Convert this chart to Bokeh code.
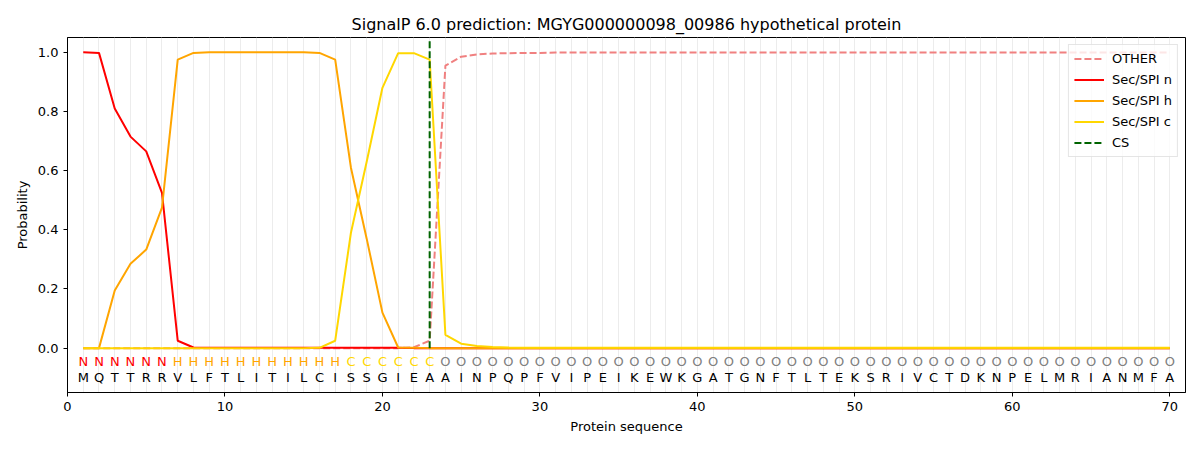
from bokeh.plotting import figure
from bokeh.models import ColumnDataSource, Legend, LegendItem, FixedTicker, Range1d, PrintfTickFormatter
from bokeh.core.properties import value
from bokeh.embed import file_html
from bokeh.resources import INLINE

title = "SignalP 6.0 prediction: MGYG000000098_00986 hypothetical protein"
sequence = list("MQTTRRVLFTLITILCISSGIEAAINPQPFVIPEIKEWKGATGNFTLTEKSRIVCTDKNPELMRIANMFA")
region_labels = list("NNNNNNHHHHHHHHHHHCCCCCC" + "OOOOOOOOOOOOOOOOOOOOOOOOOOOOOOOOOOOOOOOOOOOOOOO")
positions = list(range(1, 71))

other = [0.0, 0.0, 0.0, 0.0, 0.0, 0.0, 0.0, 0.0, 0.0, 0.0,
         0.0, 0.0, 0.0, 0.0, 0.0, 0.0, 0.0, 0.0, 0.0, 0.0,
         0.0, 0.003, 0.025, 0.955, 0.985, 0.993, 0.996, 0.997, 0.998, 0.998,
         0.999, 0.999, 0.999, 0.999, 0.999, 0.999, 0.999, 0.999, 0.999, 0.999,
         0.999, 0.999, 0.999, 0.999, 0.999, 0.999, 0.999, 0.999, 0.999, 0.999,
         0.999, 0.999, 0.999, 0.999, 0.999, 0.999, 0.999, 0.999, 0.999, 0.999,
         0.999, 0.999, 0.999, 0.999, 0.999, 0.999, 0.999, 0.999, 0.999, 0.999]
sec_n = [1.0, 0.998, 0.81, 0.715, 0.665, 0.525, 0.025, 0.002, 0.001, 0.001,
         0.001, 0.001, 0.001, 0.001, 0.001, 0.001, 0.001, 0.001, 0.001, 0.001,
         0.001, 0.0, 0.0, 0.0, 0.0, 0.0, 0.0, 0.0, 0.0, 0.0,
         0.0, 0.0, 0.0, 0.0, 0.0, 0.0, 0.0, 0.0, 0.0, 0.0,
         0.0, 0.0, 0.0, 0.0, 0.0, 0.0, 0.0, 0.0, 0.0, 0.0,
         0.0, 0.0, 0.0, 0.0, 0.0, 0.0, 0.0, 0.0, 0.0, 0.0,
         0.0, 0.0, 0.0, 0.0, 0.0, 0.0, 0.0, 0.0, 0.0, 0.0]
sec_h = [0.0, 0.0, 0.195, 0.285, 0.333, 0.475, 0.975, 0.998, 1.0, 1.0,
         1.0, 1.0, 1.0, 1.0, 1.0, 0.998, 0.975, 0.61, 0.37, 0.12,
         0.002, 0.001, 0.0, 0.0, 0.0, 0.0, 0.0, 0.0, 0.0, 0.0,
         0.0, 0.0, 0.0, 0.0, 0.0, 0.0, 0.0, 0.0, 0.0, 0.0,
         0.0, 0.0, 0.0, 0.0, 0.0, 0.0, 0.0, 0.0, 0.0, 0.0,
         0.0, 0.0, 0.0, 0.0, 0.0, 0.0, 0.0, 0.0, 0.0, 0.0,
         0.0, 0.0, 0.0, 0.0, 0.0, 0.0, 0.0, 0.0, 0.0, 0.0]
sec_c = [0.0, 0.0, 0.0, 0.0, 0.0, 0.0, 0.0, 0.0, 0.0, 0.0,
         0.0, 0.0, 0.0, 0.0, 0.0, 0.001, 0.025, 0.39, 0.63, 0.88,
         0.997, 0.997, 0.975, 0.045, 0.015, 0.007, 0.004, 0.002, 0.001, 0.001,
         0.001, 0.001, 0.001, 0.001, 0.001, 0.001, 0.001, 0.001, 0.001, 0.001,
         0.001, 0.001, 0.001, 0.001, 0.001, 0.001, 0.001, 0.001, 0.001, 0.001,
         0.001, 0.001, 0.001, 0.001, 0.001, 0.001, 0.001, 0.001, 0.001, 0.001,
         0.001, 0.001, 0.001, 0.001, 0.001, 0.001, 0.001, 0.001, 0.001, 0.001]
cs_position = 23
cs_span = [0.0, 1.04]
x_ticks = [0, 10, 20, 30, 40, 50, 60, 70]
y_ticks = [0.0, 0.2, 0.4, 0.6, 0.8, 1.0]
label_colors = {"N": "red", "H": "orange", "C": "gold", "O": "gray"}

FONT = "DejaVu Sans"

p = figure(width=1192, height=442, output_backend="svg", toolbar_location=None,
           x_range=Range1d(0, 71), y_range=Range1d(-0.15, 1.05),
           min_border_left=67, min_border_right=7, min_border_bottom=50, min_border_top=37)
p.title.text = title
p.title.align = "center"
p.title.text_font = FONT
p.title.text_font_size = "16px"
p.title.text_font_style = "normal"
p.title.text_color = "black"
p.title.standoff = 8

p.outline_line_color = "black"
p.outline_line_width = 1
p.background_fill_color = "white"

p.xgrid.ticker = FixedTicker(ticks=positions)
p.xgrid.grid_line_color = "#ececec"
p.xgrid.grid_line_width = 1
p.ygrid.grid_line_color = None

p.xaxis.ticker = FixedTicker(ticks=x_ticks)
p.yaxis.ticker = FixedTicker(ticks=y_ticks)
p.yaxis.formatter = PrintfTickFormatter(format="%.1f")
for ax in (p.xaxis, p.yaxis):
    ax.major_tick_in = 0
    ax.major_tick_out = 4
    ax.minor_tick_in = 0
    ax.minor_tick_out = 0
    ax.axis_line_color = "black"
    ax.major_tick_line_color = "black"
    ax.major_label_text_font = FONT
    ax.major_label_text_font_size = "13px"
    ax.major_label_text_color = "black"
    ax.axis_label_text_font = FONT
    ax.axis_label_text_font_size = "13px"
    ax.axis_label_text_font_style = "normal"
    ax.axis_label_text_color = "black"
p.xaxis.axis_label = "Protein sequence"
p.yaxis.axis_label = "Probability"

src = ColumnDataSource(dict(x=positions, other=other, n=sec_n, h=sec_h, c=sec_c))
r_other = p.line("x", "other", source=src, line_color="lightcoral", line_width=2, line_dash="7 3")
r_n = p.line("x", "n", source=src, line_color="red", line_width=2)
r_h = p.line("x", "h", source=src, line_color="orange", line_width=2)
r_c = p.line("x", "c", source=src, line_color="gold", line_width=2)
r_cs = p.line([cs_position, cs_position], cs_span, line_color="darkgreen", line_width=2, line_dash="7 3")

lab_src = ColumnDataSource(dict(x=positions, y=[-0.045] * len(positions), t=region_labels,
                                col=[label_colors[l] for l in region_labels]))
p.text("x", "y", text="t", source=lab_src, text_color="col", text_align="center",
       text_baseline="middle", text_font=value(FONT), text_font_size="13px")
seq_src = ColumnDataSource(dict(x=positions, y=[-0.1] * len(positions), t=sequence))
p.text("x", "y", text="t", source=seq_src, text_color="black", text_align="center",
       text_baseline="middle", text_font=value(FONT), text_font_size="13px")

legend = Legend(items=[
    LegendItem(label="OTHER", renderers=[r_other]),
    LegendItem(label="Sec/SPI n", renderers=[r_n]),
    LegendItem(label="Sec/SPI h", renderers=[r_h]),
    LegendItem(label="Sec/SPI c", renderers=[r_c]),
    LegendItem(label="CS", renderers=[r_cs]),
], location="top_right")
legend.label_text_font = FONT
legend.label_text_font_size = "13px"
legend.label_text_color = "black"
legend.border_line_color = "#cccccc"
legend.border_line_width = 1
legend.background_fill_alpha = 0.8
legend.glyph_width = 30
legend.glyph_height = 17
legend.spacing = 4
legend.padding = 5
legend.margin = 7
legend.label_standoff = 8
legend.label_height = 17
p.add_layout(legend)

open("out.html", "w").write(file_html(p, INLINE))
